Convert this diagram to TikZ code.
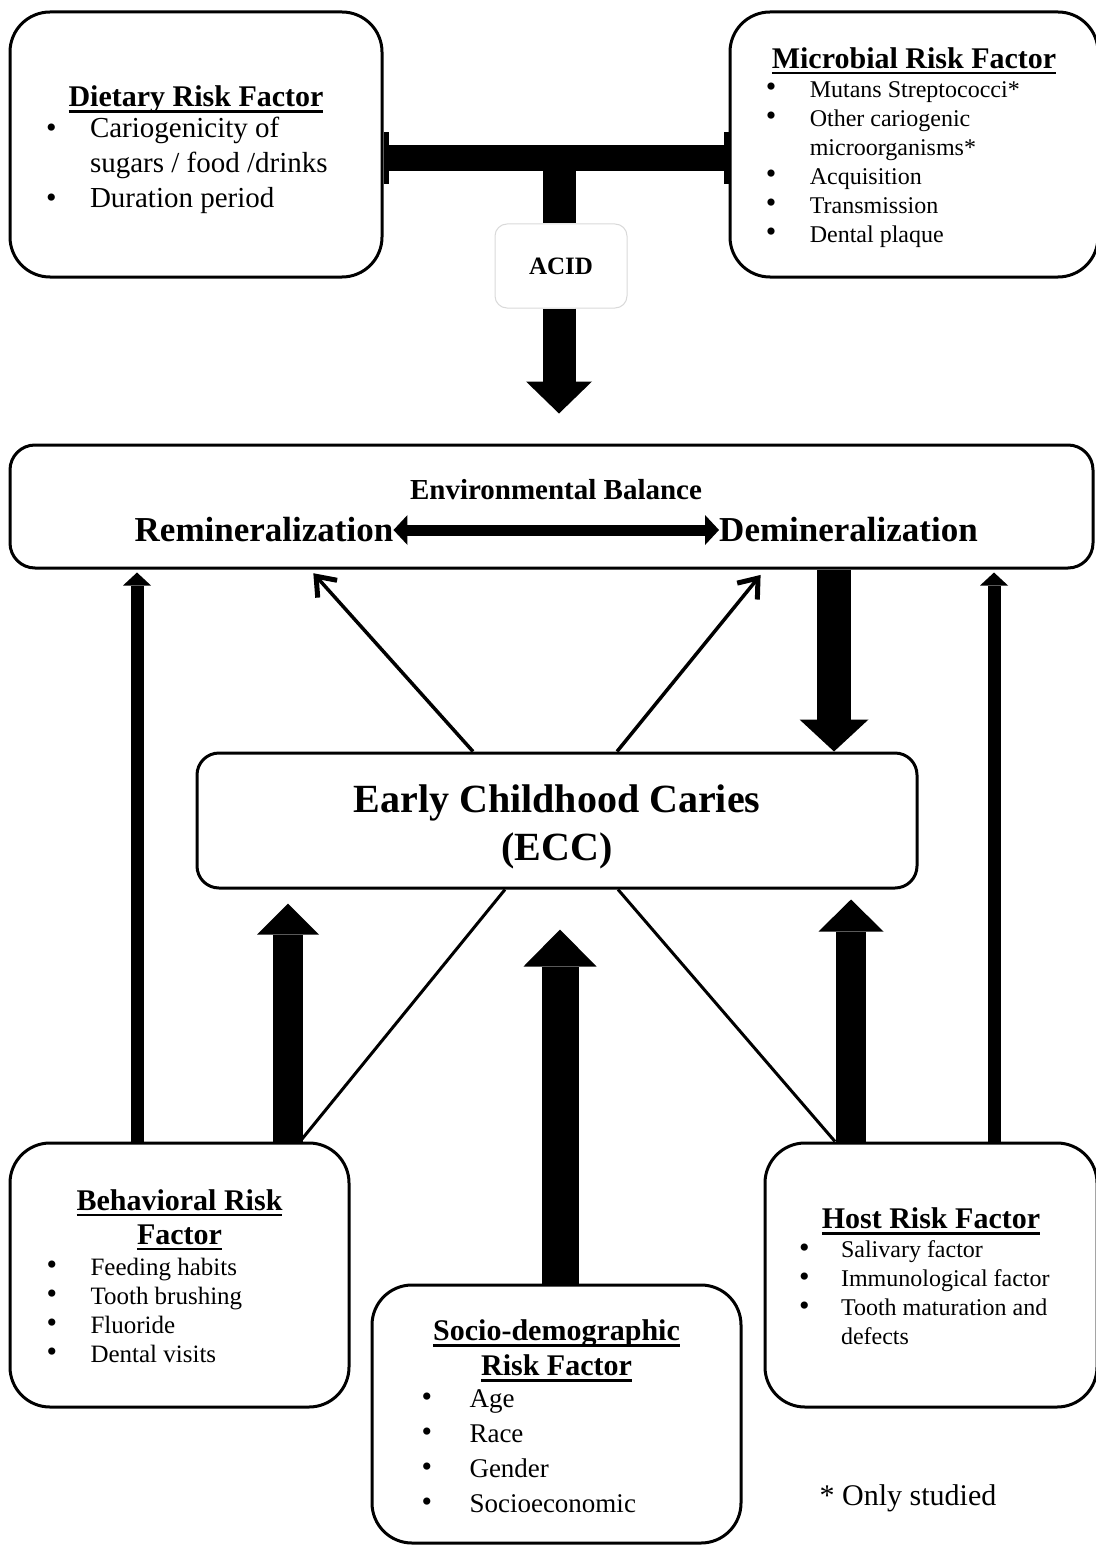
\documentclass[tikz,border=0pt]{standalone}
\usepackage{fontspec}
\setmainfont{Liberation Serif}
\usetikzlibrary{positioning, calc, arrows.meta}

\newcommand{\rftitle}[1]{\setbox0\hbox{\textbf{#1}}\rlap{\rule[-0.2em]{\wd0}{0.075em}}\box0}
\newcommand{\itm}{\raisebox{0.02em}{\fontsize{30}{30}\selectfont\textbullet}}

\begin{document}
\begin{tikzpicture}[x=1pt, y=-1pt,
    every node/.style={inner sep=0pt, align=center},
    rfbox/.style={draw, line width=3pt, rounded corners=40pt, fill=white},
    fatarrow/.style={line width=32pt, -{Triangle[length=32pt, width=66pt, line width=0pt]}},
    slimarrow/.style={line width=13pt, -{Triangle[length=13pt, width=28pt, line width=0pt]}},
    linkarrow/.style={line width=3.5pt, -{Straight Barb[length=17pt, width=26pt, line width=5pt]}},
    linkline/.style={line width=3pt}]
  \useasboundingbox (0,0) rectangle (1095,1546);

  % risk factor boxes
  \node[rfbox, minimum width=372pt, minimum height=265pt] (diet) at (196,144.5)
    {\fontsize{29}{35}\selectfont
     \begin{tabular}{@{}p{44pt}@{}p{256pt}@{}}
       \multicolumn{2}{c}{\rule{0pt}{36pt}\fontsize{30}{35}\selectfont\rftitle{Dietary Risk Factor}}\\[-4pt]
       \itm & Cariogenicity of\\
            & sugars / food /drinks\\
       \itm & Duration period
     \end{tabular}};
  \node[rfbox, minimum width=368pt, minimum height=265pt] (micro) at (914,144.5)
    {\fontsize{24}{29}\selectfont
     \begin{tabular}{@{}p{44pt}@{}p{248pt}@{}}
       \multicolumn{2}{c}{\rule{0pt}{30pt}\fontsize{30}{30}\selectfont\rftitle{Microbial Risk Factor}}\\
       \itm & Mutans Streptococci*\\
       \itm & Other cariogenic\\
            & microorganisms*\\
       \itm & Acquisition\\
       \itm & Transmission\\
       \itm & Dental plaque
     \end{tabular}};
  \node[rfbox, minimum width=339pt, minimum height=264pt] (behav) at (179.5,1275)
    {\fontsize{25}{29}\selectfont
     \begin{tabular}{@{}p{44pt}@{}p{222pt}@{}}
       \multicolumn{2}{c}{\rule{0pt}{31pt}\fontsize{30}{30}\selectfont\rftitle{Behavioral Risk}}\\[5pt]
       \multicolumn{2}{c}{\fontsize{30}{30}\selectfont\rftitle{Factor}}\\[2pt]
       \itm & Feeding habits\\
       \itm & Tooth brushing\\
       \itm & Fluoride\\
       \itm & Dental visits
     \end{tabular}};
  \node[rfbox, minimum width=369pt, minimum height=258pt] (socio) at (556.5,1414)
    {\fontsize{27}{35}\selectfont
     \begin{tabular}{@{}p{48pt}@{}p{222pt}@{}}
       \multicolumn{2}{c}{\rule{0pt}{35.5pt}\fontsize{30}{35}\selectfont\rftitle{Socio-demographic}}\\
       \multicolumn{2}{c}{\fontsize{30}{35}\selectfont\rftitle{Risk Factor}}\\[-3pt]
       \itm & Age\\
       \itm & Race\\
       \itm & Gender\\
       \itm & Socioeconomic
     \end{tabular}};
  \node[rfbox, minimum width=332pt, minimum height=264pt] (host) at (931,1275)
    {\fontsize{24}{29}\selectfont
     \begin{tabular}{@{}p{42pt}@{}p{222pt}@{}}
       \multicolumn{2}{c}{\rule{0pt}{32pt}\fontsize{30}{30}\selectfont\rftitle{Host Risk Factor}}\\
       \itm & Salivary factor\\
       \itm & Immunological factor\\
       \itm & Tooth maturation and\\
            & defects
     \end{tabular}};

  % balance and caries
  \node[rfbox, rounded corners=25pt, minimum width=1083pt, minimum height=123pt] (env) at (551.5,506.5) {};
  \node[font=\fontsize{29}{29}\selectfont\bfseries] (balance) at (556,490) {Environmental Balance};
  \node[font=\fontsize{35}{35}\selectfont\bfseries] (remin) at (264,530) {Remineralization};
  \node[font=\fontsize{35}{35}\selectfont\bfseries] (demin) at (848.5,530) {Demineralization};
  \node[rfbox, rounded corners=22pt, minimum width=720pt, minimum height=135pt,
        font=\fontsize{40}{48}\selectfont\bfseries] (ecc) at (557,820.5) {\rule{0pt}{40pt}Early Childhood Caries\\(ECC)};
  \node[draw=black!15, line width=1pt, rounded corners=12pt, minimum width=132pt, minimum height=84pt,
        font=\fontsize{25}{25}\selectfont\bfseries] (acid) at (561,266) {ACID};
  \node[font=\fontsize{30}{30}\selectfont] (note) at (908,1498) {* Only studied};

  % connectors
  \coordinate (bar-l) at ($(diet.east)+(0,13.5)$);
  \coordinate (bar-r) at ($(micro.west)+(0,13.5)$);
  \coordinate (junc) at ($(bar-l)!0.5!(bar-r)+(3,0)$);
  \draw[line width=26pt, {Bar[width=52pt, line width=5pt]}-{Bar[width=52pt, line width=5pt]}] (bar-l) -- (bar-r);
  \draw[line width=33pt] (junc) -- (junc |- acid.north);
  \draw[fatarrow, line width=33pt, shorten >=30pt] (acid.south -| junc) -- (junc |- env.north);
  \draw[line width=11pt, {Triangle[length=14pt, width=30pt, line width=0pt]}-{Triangle[length=14pt, width=30pt, line width=0pt]}] (remin.east) -- (demin.west);

  \coordinate (e-drop) at ($(env.south)+(282.5,0)$);
  \draw[fatarrow, line width=34pt, -{Triangle[length=32pt, width=69pt, line width=0pt]}] (e-drop) -- (e-drop |- ecc.north);
  \draw[linkarrow, shorten >=5pt] ($(ecc.north)+(-84,0)$) -- ($(env.south)+(-241.5,0)$);
  \draw[linkarrow, shorten >=7pt] ($(ecc.north)+(60,0)$) -- ($(env.south)+(213.5,0)$);

  \coordinate (b-up) at ($(behav.north)+(108.5,0)$);
  \coordinate (b-thin) at ($(behav.north)+(-42.5,0)$);
  \coordinate (b-diag) at ($(behav.north)+(120.5,0)$);
  \draw[fatarrow, line width=30pt, -{Triangle[length=31pt, width=62pt, line width=0pt]}, shorten >=14pt] (b-up) -- (b-up |- ecc.south);
  \draw[slimarrow, shorten >=3pt] (b-thin) -- (b-thin |- env.south);
  \draw[linkline] (b-diag) -- ($(ecc.south)+(-52,0)$);

  \coordinate (s-up) at ($(socio.north)+(3.5,0)$);
  \draw[fatarrow, line width=37pt, -{Triangle[length=37pt, width=73pt, line width=0pt]}, shorten >=40pt] (s-up) -- (s-up |- ecc.south);

  \coordinate (h-up) at ($(host.north)+(-80,0)$);
  \coordinate (h-thin) at ($(host.north)+(63,0)$);
  \coordinate (h-diag) at ($(host.north)+(-96,0)$);
  \draw[fatarrow, line width=30pt, -{Triangle[length=32pt, width=65pt, line width=0pt]}, shorten >=10pt] (h-up) -- (h-up |- ecc.south);
  \draw[slimarrow, shorten >=3pt] (h-thin) -- (h-thin |- env.south);
  \draw[linkline] (h-diag) -- ($(ecc.south)+(61,0)$);
\end{tikzpicture}
\end{document}
